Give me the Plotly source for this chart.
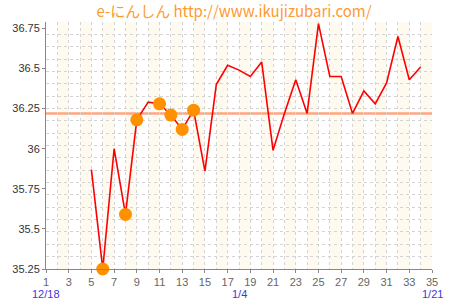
import plotly.graph_objects as go

# ---- data ----
days = list(range(5, 35))
temps = [35.87, 35.25, 36.00, 35.59, 36.18, 36.29, 36.28, 36.21, 36.12, 36.24,
         35.86, 36.40, 36.52, 36.49, 36.45, 36.54, 35.99, 36.22, 36.43, 36.22,
         36.78, 36.45, 36.45, 36.22, 36.36, 36.28, 36.41, 36.70, 36.43, 36.51]
marked_days = [6, 8, 9, 11, 12, 13, 14]
reference_temp = 36.22
x_ticks = list(range(1, 36, 2))
y_ticks = [35.25, 35.5, 35.75, 36.0, 36.25, 36.5, 36.75]
y_ticktext = ["35.25", "35.5", "35.75", "36", "36.25", "36.5", "36.75"]
date_pos = [1, 18, 35]
date_labels = ["12/18", "1/4", "1/21"]
title_text = "e-にんしん http://www.ikujizubari.com/"

x_range = [1, 35]
y_range = [35.25, 36.79]

lookup = dict(zip(days, temps))
marked_temps = [lookup[d] for d in marked_days]

fig = go.Figure()

fig.add_trace(go.Scatter(x=days, y=temps, mode="lines",
                         line=dict(color="#ff0000", width=1.6),
                         hoverinfo="skip", showlegend=False))
fig.add_trace(go.Scatter(x=marked_days, y=marked_temps, mode="markers",
                         marker=dict(color="#ff9000", size=13, line=dict(width=0)),
                         cliponaxis=False, showlegend=False))

# alternating background bands
shapes = []
for s in range(x_range[0] + 1, x_range[1], 2):
    shapes.append(dict(type="rect", xref="x", yref="paper", x0=s, x1=s + 1,
                       y0=0, y1=1, fillcolor="#fefaf0", line=dict(width=0),
                       layer="below"))
shapes.append(dict(type="line", xref="paper", yref="y", x0=0, x1=1,
                   y0=reference_temp, y1=reference_temp,
                   line=dict(color="#ffa580", width=2.5), layer="below"))

annotations = [dict(x=p, y=0, xref="x", yref="paper", text=t, showarrow=False,
                    yshift=-17, yanchor="top",
                    font=dict(family="Liberation Sans", size=11, color="#3a3ad8"))
               for p, t in zip(date_pos, date_labels)]

n_div = 20
grid_vals = [y_range[0] + (y_range[1] - y_range[0]) * k / n_div for k in range(n_div + 1)]
grid_col = "#d4d4d4"
dash = "3px,3px"

fig.update_layout(
    width=450, height=300,
    margin=dict(l=30, r=12, t=22, b=22),
    paper_bgcolor="white", plot_bgcolor="white",
    title=dict(text=title_text, x=(30 + 438) / 2 / 450, xanchor="center",
               y=1 - 12 / 300, yanchor="middle",
               font=dict(family="Noto Sans CJK JP", size=15, color="#ff9a2e")),
    shapes=shapes, annotations=annotations,
    xaxis=dict(range=x_range, tickvals=x_ticks, showgrid=True,
               gridcolor=grid_col, griddash=dash, gridwidth=1,
               minor=dict(dtick=1, tick0=0, showgrid=True, gridcolor=grid_col,
                          griddash=dash, gridwidth=1),
               showline=True, linecolor="#888888", linewidth=1,
               ticks="outside", ticklen=3, tickcolor="#888888",
               tickfont=dict(family="Liberation Sans", size=11, color="#666666"),
               zeroline=False, fixedrange=True),
    yaxis=dict(range=y_range, tickvals=y_ticks, ticktext=y_ticktext, showgrid=False,
               minor=dict(tickvals=grid_vals, showgrid=True, gridcolor=grid_col,
                          griddash=dash, gridwidth=1),
               showline=True, linecolor="#888888", linewidth=1,
               ticks="outside", ticklen=3, tickcolor="#888888",
               tickfont=dict(family="Liberation Sans", size=11, color="#333333"),
               zeroline=False, fixedrange=True),
)

fig.write_html("out.html")
